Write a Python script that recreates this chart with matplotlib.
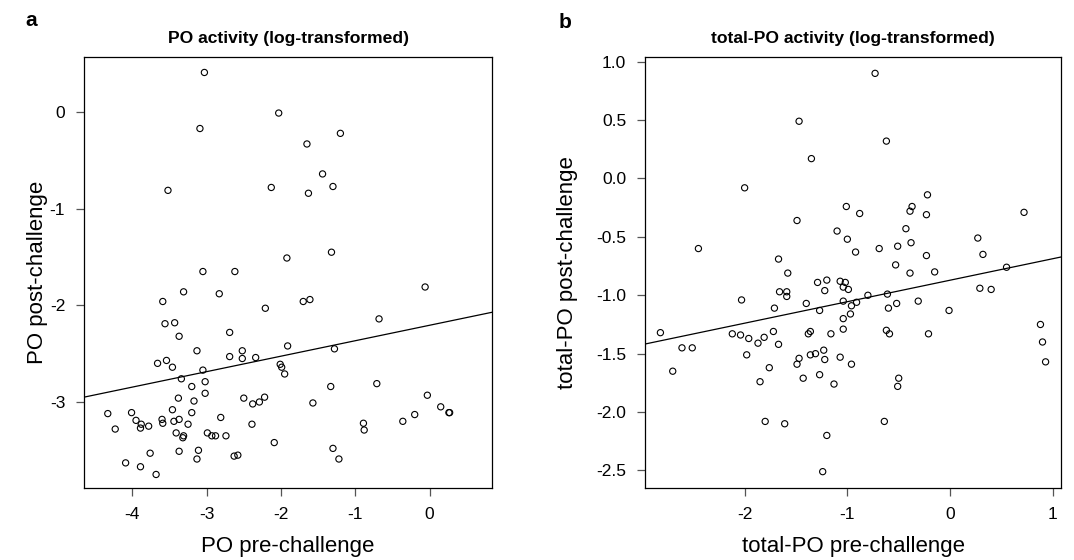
import numpy as np
import matplotlib
matplotlib.use("Agg")
import matplotlib.pyplot as plt

plt.rcParams['font.family'] = ['Liberation Sans', 'DejaVu Sans']
plt.rcParams['axes.unicode_minus'] = False

# ---------------- Panel a data: PO activity (log-transformed) ----------------
po_pre = [-3.03, -2.03, -3.09, -3.52, -2.13, -1.92, -3.05, -2.62, -3.31, -2.83,
          -3.59, -2.21, -1.20, -1.65, -1.44, -1.30, -1.63, -1.32, -0.06, -1.70,
          -1.61, -3.56, -3.43, -3.37, -2.69, -3.13, -3.66, -3.54, -3.46, -2.69,
          -2.52, -2.52, -2.34, -1.91, -2.01, -1.99, -1.95, -3.05, -3.34, -3.20,
          -3.02, -3.02, -3.38, -3.17, -2.50, -2.38, -2.29, -2.22, -4.33, -4.01,
          -3.46, -3.20, -3.95, -3.88, -3.89, -3.78, -3.60, -3.59, -3.44, -3.37,
          -3.25, -2.81, -2.39, -4.23, -3.41, -3.31, -3.32, -2.99, -2.93, -2.88,
          -2.74, -2.09, -3.76, -3.37, -3.11, -3.13, -2.63, -2.58, -4.09, -3.89,
          -3.68, -0.68, -1.28, -1.33, -0.71, -1.57, -0.03, 0.15, 0.26, 0.27,
          -0.36, -0.20, -0.89, -0.88, -1.30, -1.22]
po_post = [0.41, -0.01, -0.17, -0.81, -0.78, -1.51, -1.65, -1.65, -1.86, -1.88,
           -1.96, -2.03, -0.22, -0.33, -0.64, -0.77, -0.84, -1.45, -1.81, -1.96,
           -1.94, -2.19, -2.18, -2.32, -2.28, -2.47, -2.60, -2.57, -2.64, -2.53,
           -2.47, -2.55, -2.54, -2.42, -2.61, -2.64, -2.71, -2.67, -2.76, -2.84,
           -2.79, -2.91, -2.96, -2.99, -2.96, -3.02, -3.00, -2.95, -3.12, -3.11,
           -3.08, -3.11, -3.19, -3.23, -3.27, -3.25, -3.18, -3.22, -3.20, -3.18,
           -3.23, -3.16, -3.23, -3.28, -3.32, -3.35, -3.37, -3.32, -3.35, -3.35,
           -3.35, -3.42, -3.53, -3.51, -3.50, -3.59, -3.56, -3.55, -3.63, -3.67,
           -3.75, -2.14, -2.45, -2.84, -2.81, -3.01, -2.93, -3.05, -3.11, -3.11,
           -3.20, -3.13, -3.22, -3.29, -3.48, -3.59]
po_fit = [-2.206, 0.160]          # intercept, slope of the drawn fit line

# ---------------- Panel b data: total-PO activity (log-transformed) ----------
tpo_pre = [-2.00, -2.45, -1.67, -0.73, -1.47, -0.62, -1.35, -0.22, -1.01, -0.88,
           -0.37, -0.39, -0.23, -1.49, -1.10, -1.00, -0.43, -0.38, -0.51, -0.92,
           -0.69, -0.23, 0.27, 0.32, -0.53, -0.39, -0.15, -1.58, -2.82, -2.70,
           -2.61, -2.51, -2.03, -2.12, -2.04, -1.96, -1.98, -1.87, -1.81, -1.72,
           -1.67, -1.76, -1.85, -1.80, -1.71, -1.66, -1.61, -1.59, -1.59, -1.29,
           -1.20, -1.22, -1.07, -1.02, -1.04, -0.99, -1.40, -1.27, -1.04, -0.96,
           -0.91, -0.80, -0.61, -0.60, -0.52, -0.31, -0.01, 0.29, 0.40, -1.04,
           -0.97, -1.38, -1.36, -1.16, -1.04, -0.62, -0.59, -0.21, -1.47, -1.49,
           -1.36, -1.31, -1.23, -1.22, -1.07, -0.96, -1.43, -1.27, -1.13, -0.50,
           -0.51, -1.20, -0.64, -1.24, 0.55, 0.72, 0.88, 0.90, 0.93]
tpo_post = [-0.08, -0.60, -0.69, 0.90, 0.49, 0.32, 0.17, -0.14, -0.24, -0.30,
            -0.24, -0.28, -0.31, -0.36, -0.45, -0.52, -0.43, -0.55, -0.58, -0.63,
            -0.60, -0.66, -0.51, -0.65, -0.74, -0.81, -0.80, -0.81, -1.32, -1.65,
            -1.45, -1.45, -1.04, -1.33, -1.34, -1.37, -1.51, -1.41, -1.36, -1.31,
            -1.42, -1.62, -1.74, -2.08, -1.11, -0.97, -2.10, -0.97, -1.01, -0.89,
            -0.87, -0.96, -0.88, -0.89, -0.93, -0.95, -1.07, -1.13, -1.05, -1.09,
            -1.06, -1.00, -0.99, -1.11, -1.07, -1.05, -1.13, -0.94, -0.95, -1.20,
            -1.16, -1.33, -1.31, -1.33, -1.29, -1.30, -1.33, -1.33, -1.54, -1.59,
            -1.51, -1.50, -1.47, -1.55, -1.53, -1.59, -1.71, -1.68, -1.76, -1.71,
            -1.78, -2.20, -2.08, -2.51, -0.76, -0.29, -1.25, -1.40, -1.57]
tpo_fit = [-0.871, 0.184]

po_xticks = [-4, -3, -2, -1, 0]
po_yticks = [-3, -2, -1, 0]
tpo_xticks = [-2, -1, 0, 1]
tpo_yticks = [-2.5, -2.0, -1.5, -1.0, -0.5, 0.0, 0.5, 1.0]
tpo_yticklabels = ["-2.5", "-2.0", "-1.5", "-1.0", "-0.5", "0.0", "0.5", "1.0"]

W, H = 1074, 560
fig = plt.figure(figsize=(W / 100, H / 100), dpi=100)


def px_axes(l, t, r, b):
    return fig.add_axes([l / W, 1 - b / H, (r - l) / W, (b - t) / H])


def style(ax):
    for s in ax.spines.values():
        s.set_linewidth(0.9)
        s.set_color('black')
    ax.tick_params(direction='out', length=6, width=0.9, color='#555555',
                   labelsize=12.5, pad=7.5)


# Panel a
axa = px_axes(84, 57, 492, 488)
axa.scatter(po_pre, po_post, s=20, facecolors='none', edgecolors='black',
            linewidths=0.8, zorder=3)
xl = np.array([-4.65, 0.84])
axa.plot(xl, po_fit[0] + po_fit[1] * xl, color='black', lw=0.9)
axa.set_xlim(-4.65, 0.84)
axa.set_ylim(-3.89, 0.57)
axa.set_xticks(po_xticks)
axa.set_yticks(po_yticks)
style(axa)
axa.set_xlabel("PO pre-challenge", fontsize=16, labelpad=10)
axa.set_ylabel("PO post-challenge", fontsize=16)
axa.yaxis.set_label_coords(-0.088, 0.5)
axa.set_title("PO activity (log-transformed)", fontsize=12.6, fontweight='bold', pad=10)

# Panel b
axb = px_axes(645, 57, 1061, 488)
axb.scatter(tpo_pre, tpo_post, s=20, facecolors='none', edgecolors='black',
            linewidths=0.8, zorder=3)
xl = np.array([-2.97, 1.08])
axb.plot(xl, tpo_fit[0] + tpo_fit[1] * xl, color='black', lw=0.9)
axb.set_xlim(-2.97, 1.08)
axb.set_ylim(-2.65, 1.04)
axb.set_xticks(tpo_xticks)
axb.set_yticks(tpo_yticks)
axb.set_yticklabels(tpo_yticklabels)
style(axb)
axb.set_xlabel("total-PO pre-challenge", fontsize=16, labelpad=10)
axb.set_ylabel("total-PO post-challenge", fontsize=16)
axb.yaxis.set_label_coords(-0.16, 0.5)
axb.set_title("total-PO activity (log-transformed)", fontsize=12.6, fontweight='bold', pad=10)

fig.text(25 / W, 1 - 21 / H, "a", fontsize=15, fontweight='bold', va='center', ha='left')
fig.text(559 / W, 1 - 22 / H, "b", fontsize=15, fontweight='bold', va='center', ha='left')

fig.savefig("out.png", dpi=100)
